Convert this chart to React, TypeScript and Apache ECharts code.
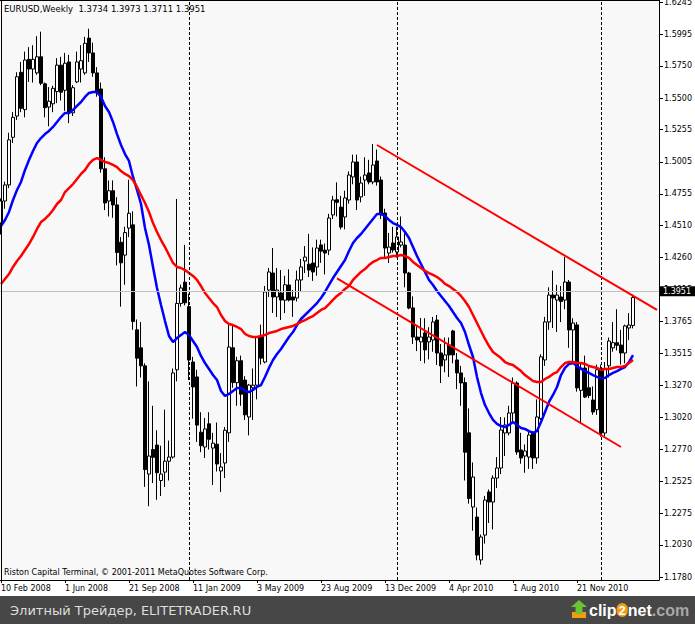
import React, { useEffect, useRef } from "react";
import * as echarts from "echarts";

const symbol = "EURUSD";
const period = "Weekly";

const opens = [
  1.4530, 1.4700, 1.4825, 1.5195, 1.5360, 1.5700, 1.5410, 1.5800, 1.5725, 1.5695,
  1.5820, 1.5610, 1.5430, 1.5455, 1.5550, 1.5755, 1.5560, 1.5780, 1.5385, 1.5625,
  1.5725, 1.5695, 1.5965, 1.5850, 1.5695, 1.5570, 1.4950, 1.4700, 1.4780, 1.4670,
  1.4380, 1.4280, 1.4490, 1.4515, 1.3700, 1.3560, 1.3420, 1.2580, 1.2770, 1.2805,
  1.2530, 1.2595, 1.2680, 1.2712, 1.3390, 1.3905, 1.4070, 1.3880, 1.3450, 1.3334,
  1.2905, 1.2790, 1.2970, 1.2782, 1.2812, 1.2604, 1.2666, 1.2900, 1.3560, 1.3290,
  1.3460, 1.3310, 1.3023, 1.3250, 1.3270, 1.3644, 1.3450, 1.4009, 1.4141, 1.3955,
  1.3986, 1.3930, 1.4048, 1.3955, 1.3947, 1.4087, 1.4234, 1.4210, 1.4219, 1.4188,
  1.4359, 1.4319, 1.4319, 1.4592, 1.4710, 1.4653, 1.4576, 1.4708, 1.4887, 1.5003,
  1.4732, 1.4863, 1.4918, 1.4848, 1.5011, 1.4863, 1.4607, 1.4296, 1.4374, 1.4304,
  1.4358, 1.4358, 1.4141, 1.3870, 1.3644, 1.3606, 1.3676, 1.3606, 1.3621, 1.3776,
  1.3520, 1.3466, 1.3582, 1.3691, 1.3466, 1.3365, 1.3290, 1.2900, 1.2324, 1.2246,
  1.1913, 1.2106, 1.2441, 1.2363, 1.2549, 1.2627, 1.2899, 1.2899, 1.3054, 1.3287,
  1.2767, 1.2720, 1.2712, 1.2899, 1.2705, 1.3010, 1.3466, 1.3761, 1.3970, 1.3931,
  1.3955, 1.3931, 1.4071, 1.3699, 1.3738, 1.3230, 1.3403, 1.3250, 1.3155, 1.3080,
  1.3400, 1.2899, 1.3420, 1.3560, 1.3600, 1.3582, 1.3520, 1.3714, 1.3734,
];

const highs = [
  1.4720, 1.4850, 1.5230, 1.5390, 1.5700, 1.5780, 1.5860, 1.5895, 1.5910, 1.5980,
  1.6015, 1.5620, 1.5585, 1.5595, 1.5810, 1.5820, 1.5850, 1.5835, 1.5600, 1.5860,
  1.5910, 1.5975, 1.6038, 1.5930, 1.5740, 1.5620, 1.5040, 1.4860, 1.4860, 1.4730,
  1.4420, 1.4500, 1.4865, 1.4620, 1.3780, 1.3760, 1.3440, 1.3300, 1.3110, 1.2920,
  1.2800, 1.3080, 1.2840, 1.3400, 1.4716, 1.4050, 1.4360, 1.3980, 1.3490, 1.3390,
  1.3060, 1.3015, 1.3060, 1.2900, 1.2980, 1.2743, 1.2945, 1.3740, 1.3730, 1.3490,
  1.3500, 1.3340, 1.3280, 1.3400, 1.3650, 1.3740, 1.4040, 1.4180, 1.4335, 1.4180,
  1.4164, 1.4120, 1.4170, 1.4009, 1.4160, 1.4250, 1.4350, 1.4445, 1.4340, 1.4400,
  1.4400, 1.4370, 1.4600, 1.4740, 1.4845, 1.4740, 1.4780, 1.4930, 1.5060, 1.5060,
  1.4890, 1.5040, 1.5020, 1.5143, 1.5100, 1.4890, 1.4640, 1.4452, 1.4500, 1.4500,
  1.4580, 1.4450, 1.4150, 1.3960, 1.3737, 1.3792, 1.3790, 1.3720, 1.3800, 1.3815,
  1.3590, 1.3640, 1.3640, 1.3700, 1.3520, 1.3420, 1.3330, 1.3090, 1.2670, 1.2320,
  1.2110, 1.2410, 1.2460, 1.2570, 1.2712, 1.3023, 1.3020, 1.3110, 1.3330, 1.3300,
  1.2900, 1.2810, 1.2920, 1.2910, 1.3160, 1.3510, 1.3800, 1.4030, 1.4160, 1.4049,
  1.4040, 1.4265, 1.4087, 1.3790, 1.3760, 1.3440, 1.3500, 1.3420, 1.3260, 1.3430,
  1.3430, 1.3450, 1.3640, 1.3760, 1.3860, 1.3700, 1.3740, 1.3830, 1.3973,
];

const lows = [
  1.4440, 1.4640, 1.4800, 1.5150, 1.5330, 1.5390, 1.5350, 1.5625, 1.5620, 1.5680,
  1.5600, 1.5350, 1.5280, 1.5390, 1.5460, 1.5480, 1.5400, 1.5305, 1.5360, 1.5615,
  1.5620, 1.5680, 1.5780, 1.5665, 1.5510, 1.4920, 1.4630, 1.4580, 1.4570, 1.4200,
  1.3880, 1.4050, 1.4420, 1.3700, 1.3260, 1.3330, 1.2480, 1.2330, 1.2510, 1.2380,
  1.2410, 1.2480, 1.2530, 1.2700, 1.3300, 1.3880, 1.3890, 1.3310, 1.3010, 1.2830,
  1.2750, 1.2705, 1.2770, 1.2495, 1.2600, 1.2440, 1.2549, 1.2830, 1.3250, 1.3110,
  1.3110, 1.3000, 1.2880, 1.3000, 1.3160, 1.3430, 1.3440, 1.3955, 1.3831, 1.3800,
  1.3776, 1.3830, 1.3920, 1.3800, 1.3920, 1.4000, 1.4141, 1.4110, 1.4080, 1.4120,
  1.4220, 1.4130, 1.4280, 1.4560, 1.4580, 1.4480, 1.4480, 1.4680, 1.4830, 1.4630,
  1.4690, 1.4740, 1.4830, 1.4830, 1.4820, 1.4560, 1.4250, 1.4219, 1.4300, 1.4260,
  1.4340, 1.4030, 1.3860, 1.3590, 1.3535, 1.3458, 1.3440, 1.3470, 1.3530, 1.3427,
  1.3287, 1.3370, 1.3334, 1.3440, 1.3240, 1.3110, 1.2530, 1.2350, 1.2140, 1.1910,
  1.1876, 1.2040, 1.2200, 1.2150, 1.2471, 1.2580, 1.2720, 1.2880, 1.2990, 1.2730,
  1.2660, 1.2590, 1.2620, 1.2620, 1.2660, 1.3000, 1.3420, 1.3700, 1.3714, 1.3683,
  1.3760, 1.3860, 1.3560, 1.3450, 1.3220, 1.2970, 1.3170, 1.3170, 1.3040, 1.3040,
  1.2870, 1.2870, 1.3330, 1.3530, 1.3540, 1.3430, 1.3440, 1.3620, 1.3711,
];

const closes = [
  1.4700, 1.4825, 1.5175, 1.5350, 1.5665, 1.5420, 1.5795, 1.5725, 1.5800, 1.5820,
  1.5615, 1.5425, 1.5475, 1.5575, 1.5755, 1.5545, 1.5770, 1.5385, 1.5580, 1.5780,
  1.5790, 1.5925, 1.5850, 1.5695, 1.5540, 1.4950, 1.4685, 1.4780, 1.4670, 1.4300,
  1.4220, 1.4455, 1.4605, 1.3765, 1.3480, 1.3420, 1.2615, 1.2720, 1.2710, 1.2590,
  1.2580, 1.2680, 1.2712, 1.3365, 1.3905, 1.4025, 1.3910, 1.3465, 1.3256, 1.2960,
  1.2800, 1.2930, 1.2850, 1.2820, 1.2658, 1.2635, 1.2920, 1.3566, 1.3290, 1.3460,
  1.3200, 1.3040, 1.3271, 1.3270, 1.3640, 1.3480, 1.3994, 1.4149, 1.3955, 1.4009,
  1.3931, 1.4050, 1.3931, 1.3931, 1.4087, 1.4188, 1.4265, 1.4164, 1.4149, 1.4335,
  1.4311, 1.4296, 1.4568, 1.4708, 1.4690, 1.4498, 1.4724, 1.4902, 1.5003, 1.4708,
  1.4840, 1.4902, 1.4848, 1.4980, 1.4848, 1.4600, 1.4335, 1.4343, 1.4320, 1.4421,
  1.4382, 1.4141, 1.3869, 1.3644, 1.3621, 1.3644, 1.3544, 1.3644, 1.3761, 1.3520,
  1.3420, 1.3505, 1.3505, 1.3505, 1.3365, 1.3287, 1.2750, 1.2390, 1.2557, 1.1951,
  1.2091, 1.2378, 1.2363, 1.2549, 1.2627, 1.2922, 1.2961, 1.3054, 1.3287, 1.2751,
  1.2705, 1.2759, 1.2883, 1.2705, 1.3023, 1.3490, 1.3761, 1.3970, 1.3947, 1.3970,
  1.3920, 1.4071, 1.3699, 1.3753, 1.3249, 1.3403, 1.3178, 1.3190, 1.3062, 1.3390,
  1.2900, 1.3400, 1.3613, 1.3600, 1.3580, 1.3520, 1.3730, 1.3737, 1.3951,
];

// Blue moving average (fast)
const maFast = [
  1.4506, 1.4553, 1.4615, 1.4708, 1.4786, 1.4848, 1.4941, 1.5019, 1.5088, 1.5151,
  1.5189, 1.5220, 1.5244, 1.5275, 1.5314, 1.5352, 1.5384, 1.5384, 1.5407, 1.5438,
  1.5469, 1.5508, 1.5539, 1.5547, 1.5547, 1.5508, 1.5438, 1.5391, 1.5314, 1.5220,
  1.5135, 1.5065, 1.5011, 1.4887, 1.4786, 1.4677, 1.4491, 1.4359, 1.4188, 1.4025,
  1.3893, 1.3768, 1.3652, 1.3605, 1.3636, 1.3660, 1.3683, 1.3660, 1.3613, 1.3567,
  1.3497, 1.3442, 1.3396, 1.3349, 1.3310, 1.3225, 1.3186, 1.3202, 1.3225, 1.3248,
  1.3248, 1.3225, 1.3217, 1.3233, 1.3256, 1.3271, 1.3334, 1.3404, 1.3466, 1.3512,
  1.3551, 1.3598, 1.3644, 1.3683, 1.3737, 1.3784, 1.3815, 1.3846, 1.3877, 1.3908,
  1.3947, 1.3994, 1.4048, 1.4102, 1.4149, 1.4196, 1.4242, 1.4312, 1.4374, 1.4413,
  1.4444, 1.4483, 1.4522, 1.4561, 1.4599, 1.4599, 1.4584, 1.4553, 1.4529, 1.4514,
  1.4498, 1.4460, 1.4413, 1.4343, 1.4273, 1.4211, 1.4149, 1.4087, 1.4048, 1.4001,
  1.3963, 1.3924, 1.3885, 1.3838, 1.3792, 1.3753, 1.3683, 1.3582, 1.3489, 1.3334,
  1.3209, 1.3116, 1.3054, 1.3000, 1.2969, 1.2953, 1.2945, 1.2961, 1.2984, 1.2961,
  1.2938, 1.2930, 1.2914, 1.2899, 1.2914, 1.2984, 1.3062, 1.3140, 1.3194, 1.3256,
  1.3349, 1.3404, 1.3435, 1.3442, 1.3419, 1.3396, 1.3380, 1.3365, 1.3349, 1.3334,
  1.3326, 1.3326, 1.3349, 1.3365, 1.3380, 1.3396, 1.3411, 1.3450, 1.3504,
];

// Red moving average (slow)
const maSlow = [
  1.4056, 1.4095, 1.4133, 1.4188, 1.4234, 1.4273, 1.4320, 1.4366, 1.4421, 1.4483,
  1.4537, 1.4561, 1.4592, 1.4630, 1.4677, 1.4708, 1.4770, 1.4801, 1.4832, 1.4871,
  1.4910, 1.4941, 1.4988, 1.5019, 1.5034, 1.5019, 1.5003, 1.4995, 1.4980, 1.4964,
  1.4933, 1.4910, 1.4894, 1.4863, 1.4809, 1.4747, 1.4685, 1.4615, 1.4529, 1.4460,
  1.4397, 1.4343, 1.4281, 1.4219, 1.4188, 1.4180, 1.4164, 1.4141, 1.4118, 1.4087,
  1.4040, 1.3986, 1.3947, 1.3908, 1.3877, 1.3815, 1.3768, 1.3745, 1.3737, 1.3722,
  1.3706, 1.3668, 1.3652, 1.3644, 1.3644, 1.3652, 1.3660, 1.3675, 1.3683, 1.3691,
  1.3706, 1.3714, 1.3722, 1.3730, 1.3745, 1.3761, 1.3776, 1.3792, 1.3807, 1.3831,
  1.3854, 1.3869, 1.3900, 1.3932, 1.3963, 1.3986, 1.4017, 1.4040, 1.4087, 1.4118,
  1.4149, 1.4172, 1.4203, 1.4227, 1.4242, 1.4258, 1.4258, 1.4265, 1.4273, 1.4273,
  1.4281, 1.4273, 1.4258, 1.4227, 1.4203, 1.4180, 1.4157, 1.4141, 1.4126, 1.4110,
  1.4087, 1.4056, 1.4040, 1.4017, 1.3994, 1.3963, 1.3924, 1.3877, 1.3815, 1.3753,
  1.3691, 1.3629, 1.3574, 1.3528, 1.3504, 1.3481, 1.3450, 1.3435, 1.3427, 1.3404,
  1.3380, 1.3349, 1.3326, 1.3303, 1.3295, 1.3295, 1.3318, 1.3334, 1.3357, 1.3372,
  1.3411, 1.3442, 1.3450, 1.3450, 1.3442, 1.3442, 1.3435, 1.3419, 1.3411, 1.3404,
  1.3388, 1.3396, 1.3396, 1.3404, 1.3411, 1.3411, 1.3419, 1.3442, 1.3466,
];

const tickLabels = [
  "10 Feb 2008", "1 Jun 2008", "21 Sep 2008", "11 Jan 2009", "3 May 2009",
  "23 Aug 2009", "13 Dec 2009", "4 Apr 2010", "1 Aug 2010", "21 Nov 2010",
];

const priceTicks = [
  1.6245, 1.5995, 1.575, 1.55, 1.5255, 1.5005, 1.4755, 1.451, 1.426, 1.4015,
  1.3765, 1.3515, 1.327, 1.302, 1.277, 1.2525, 1.2275, 1.203, 1.178,
];

// trend lines: [bar index, price]
const upperTrend = [[94, 1.5135], [164, 1.3854]];
const lowerTrend = [[84, 1.41], [155, 1.279]];
// vertical dashed separators (bar index)
const separators = [47, 99, 150];

const TOTAL_SLOTS = 165;
const LABEL_EVERY = 16;
const PRICE_MIN = 1.17573;
const PRICE_MAX = 1.6261;

const FONT = "'DejaVu Sans', Verdana, sans-serif";

export default function App() {
  const ref = useRef<HTMLDivElement>(null);

  useEffect(() => {
    if (!ref.current) return;
    document.body.style.margin = "0";
    const chart = echarts.init(ref.current, null, { renderer: "svg" });
    const n = closes.length;
    const last = n - 1;
    const cats = Array.from({ length: TOTAL_SLOTS }, (_, i) => String(i));
    const candles = opens.map((o, i) => [o, closes[i], lows[i], highs[i]]);
    const showTick = (i: number) =>
      i % LABEL_EVERY === 0 && i / LABEL_EVERY < tickLabels.length;
    const title = `${symbol},${period}  ${opens[last].toFixed(4)} ${highs[last].toFixed(4)} ${lows[last].toFixed(4)} ${closes[last].toFixed(4)}`;

    chart.setOption({
      animation: false,
      backgroundColor: "#ffffff",
      grid: {
        left: -1,
        top: 0,
        width: 660,
        height: 580,
        show: true,
        backgroundColor: "#f8f8f8",
        borderWidth: 0,
        containLabel: false,
        outerBoundsMode: "none",
      },
      xAxis: {
        type: "category",
        data: cats,
        boundaryGap: true,
        axisLine: { show: true, lineStyle: { color: "#000", width: 1 } },
        axisTick: {
          show: true,
          alignWithLabel: true,
          interval: (i: number) => showTick(i),
          length: 3,
          lineStyle: { color: "#000" },
        },
        axisLabel: {
          interval: (i: number) => showTick(i),
          formatter: (v: string) => tickLabels[Number(v) / LABEL_EVERY] ?? "",
          align: "left",
          fontSize: 8,
          fontFamily: FONT,
          color: "#000",
          margin: 4,
        },
        splitLine: { show: false },
      },
      yAxis: {
        type: "value",
        position: "right",
        min: PRICE_MIN,
        max: PRICE_MAX,
        scale: true,
        axisLine: { show: true, lineStyle: { color: "#000", width: 1 } },
        axisTick: {
          show: true,
          length: 4,
          customValues: priceTicks,
          lineStyle: { color: "#000" },
        },
        axisLabel: {
          customValues: priceTicks,
          formatter: (v: number) => v.toFixed(4),
          fontSize: 8,
          fontFamily: FONT,
          color: "#000",
          margin: 5,
        },
        splitLine: { show: false },
      },
      series: [
        {
          type: "candlestick",
          data: candles,
          barWidth: 3,
          z: 2,
          itemStyle: {
            color: "#ffffff",
            color0: "#000000",
            borderColor: "#000000",
            borderColor0: "#000000",
            borderWidth: 1,
          },
          markLine: {
            silent: true,
            symbol: ["none", "none"],
            animation: false,
            label: { show: false },
            data: [
              {
                yAxis: closes[last],
                lineStyle: { color: "#c0c0c0", type: "solid", width: 1 },
                label: {
                  show: true,
                  position: "end",
                  formatter: closes[last].toFixed(4),
                  color: "#ffffff",
                  backgroundColor: "#000000",
                  padding: [1, 4, 0, 3],
                  lineHeight: 9,
                  fontSize: 8,
                  fontFamily: FONT,
                  distance: 1,
                },
              },
              ...separators.map((s) => ({
                xAxis: String(s),
                lineStyle: { color: "#000", type: [3, 2], width: 1 },
                label: { show: false },
              })),
            ],
          },
        },
        {
          type: "line",
          data: maFast,
          symbol: "none",
          silent: true,
          z: 3,
          lineStyle: { color: "#0000ff", width: 2.5 },
        },
        {
          type: "line",
          data: maSlow,
          symbol: "none",
          silent: true,
          z: 3,
          lineStyle: { color: "#ff0000", width: 2.5 },
          markLine: {
            silent: true,
            symbol: ["none", "none"],
            animation: false,
            label: { show: false },
            lineStyle: { color: "#ff0000", width: 2, type: "solid" },
            data: [upperTrend, lowerTrend].map((t) => [
              { coord: [String(t[0][0]), t[0][1]] },
              { coord: [String(t[1][0]), t[1][1]] },
            ]),
          },
        },
      ],
      graphic: [
        {
          type: "line",
          z: 100,
          shape: { x1: 0, y1: 0.5, x2: 659, y2: 0.5 },
          style: { stroke: "#000", lineWidth: 1 },
        },
        {
          type: "line",
          z: 100,
          shape: { x1: 1.5, y1: 0, x2: 1.5, y2: 580 },
          style: { stroke: "#000", lineWidth: 1 },
        },
        {
          type: "text",
          z: 100,
          x: 4,
          y: 9,
          style: {
            text: title,
            fontSize: 8.5,
            fontFamily: FONT,
            fill: "#000",
            verticalAlign: "middle",
          },
        },
        {
          type: "text",
          z: 100,
          x: 4,
          y: 572,
          style: {
            text: "Riston Capital Terminal, © 2001-2011 MetaQuotes Software Corp.",
            fontSize: 8,
            fontFamily: FONT,
            fill: "#000",
            verticalAlign: "middle",
          },
        },
        {
          type: "rect",
          z: 100,
          shape: { x: 0, y: 596, width: 695, height: 28 },
          style: { fill: "#474747" },
        },
        {
          type: "text",
          z: 101,
          x: 10,
          y: 610,
          style: {
            text: "Элитный Трейдер, ELITETRADER.RU",
            fontSize: 13,
            fontFamily: FONT,
            fill: "#dedede",
            verticalAlign: "middle",
          },
        },
        {
          type: "rect",
          z: 101,
          shape: { x: 572, y: 612, width: 14, height: 6 },
          style: { fill: "#f39c12" },
        },
        {
          type: "polygon",
          z: 102,
          shape: {
            points: [
              [579, 600], [587, 607], [582.5, 607], [582.5, 614],
              [575.5, 614], [575.5, 607], [571, 607],
            ],
          },
          style: { fill: "#6cc334" },
        },
        {
          type: "text",
          z: 101,
          x: 589,
          y: 610,
          style: {
            text: "{a|clip}{b|2}{a|net}{c|.com}",
            verticalAlign: "middle",
            rich: {
              a: { fontSize: 16, fontWeight: "bold", fontFamily: "'Liberation Sans', Arial, sans-serif", fill: "#ffffff", color: "#ffffff" },
              b: { fontSize: 13, fontWeight: "bold", fontFamily: "'Liberation Sans', Arial, sans-serif", color: "#ffffff", fill: "#ffffff", backgroundColor: "#f39c12", borderRadius: 8, padding: [1, 2, 0, 2] },
              c: { fontSize: 16, fontWeight: "bold", fontFamily: "'Liberation Sans', Arial, sans-serif", fill: "#a8a8a8", color: "#a8a8a8" },
            },
          },
        },
      ],
    });

    return () => chart.dispose();
  }, []);

  return (
    <div
      ref={ref}
      style={{
        position: "fixed",
        left: 0,
        top: 0,
        width: 695,
        height: 624,
        background: "#fff",
      }}
    />
  );
}
